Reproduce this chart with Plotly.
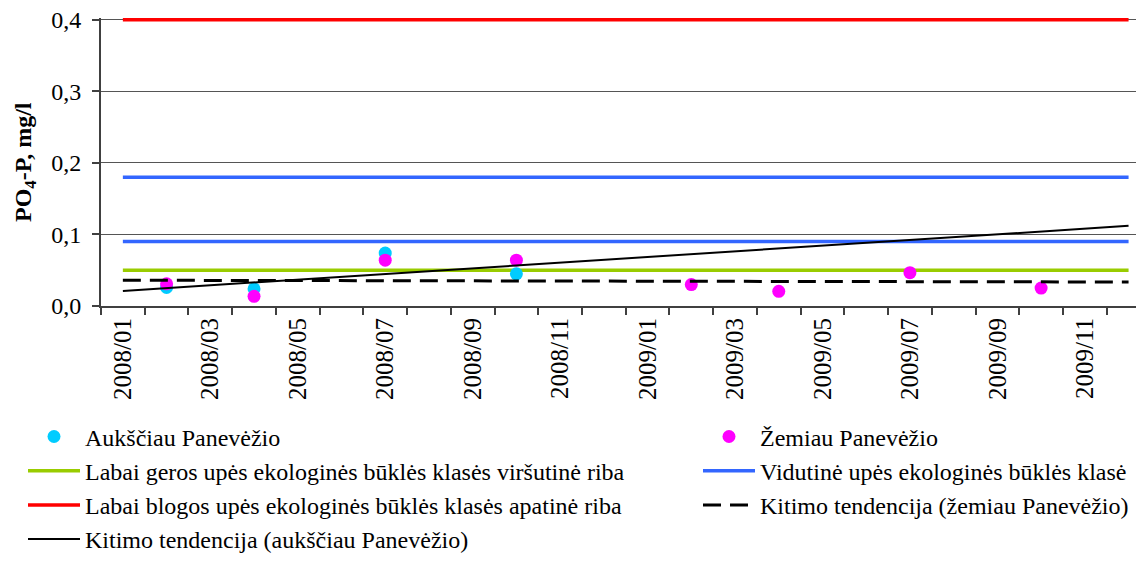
import plotly.graph_objects as go

# month labels shown on the x axis (every second month)
tick_labels = ["2008/01", "2008/03", "2008/05", "2008/07", "2008/09", "2008/11",
               "2009/01", "2009/03", "2009/05", "2009/07", "2009/09", "2009/11"]

# sampling months and measured PO4-P, mg/l
upstream_months = ["2008/02", "2008/04", "2008/07", "2008/10"]
upstream_values = [0.026, 0.024, 0.074, 0.045]

downstream_months = ["2008/02", "2008/04", "2008/07", "2008/10",
                     "2009/02", "2009/04", "2009/07", "2009/10"]
downstream_values = [0.031, 0.0135, 0.064, 0.064, 0.030, 0.0205, 0.0466, 0.025]

# class limits, drawn over the whole period
period = ["2008/01", "2009/12"]
very_good_upper = 0.05
moderate_lower = 0.09
moderate_upper = 0.18
very_bad_lower = 0.4

# trend lines (start and end of the period)
trend_upstream = [0.021, 0.112]
trend_downstream = [0.036, 0.0335]


def month_pos(label):
    year, month = label.split("/")
    return (int(year) - 2008) * 12 + int(month) - 1


def xs(labels):
    return [month_pos(m) for m in labels]


FONT = "Liberation Serif"
fig = go.Figure()

# limit lines first so points and trends sit on top
fig.add_trace(go.Scatter(x=xs(period), y=[very_good_upper] * 2, mode="lines",
                         name="Labai geros upės ekologinės būklės klasės viršutinė riba",
                         legend="legend", legendgroup="b", legendrank=2,
                         line=dict(color="#99CC00", width=3.5)))
fig.add_trace(go.Scatter(x=xs(period), y=[very_bad_lower] * 2, mode="lines",
                         name="Labai blogos upės ekologinės būklės klasės apatinė riba",
                         legend="legend", legendgroup="c", legendrank=3,
                         line=dict(color="#FF0000", width=3.5)))
fig.add_trace(go.Scatter(x=xs(period), y=[moderate_upper] * 2, mode="lines",
                         name="Vidutinė upės ekologinės būklės klasė",
                         legend="legend2", legendgroup="f", legendrank=2,
                         line=dict(color="#3366FF", width=3.5)))
fig.add_trace(go.Scatter(x=xs(period), y=[moderate_lower] * 2, mode="lines",
                         name="Vidutinė upės ekologinės būklės klasė", showlegend=False,
                         legend="legend2", legendgroup="f", legendrank=2,
                         line=dict(color="#3366FF", width=3.5)))

fig.add_trace(go.Scatter(x=xs(upstream_months), y=upstream_values, mode="markers",
                         name="Aukščiau Panevėžio", legend="legend", legendgroup="a",
                         legendrank=1, marker=dict(color="#00CCFF", size=13)))
fig.add_trace(go.Scatter(x=xs(downstream_months), y=downstream_values, mode="markers",
                         name="Žemiau Panevėžio", legend="legend2", legendgroup="e",
                         legendrank=1, marker=dict(color="#FF00FF", size=13)))

fig.add_trace(go.Scatter(x=xs(period), y=trend_upstream, mode="lines",
                         name="Kitimo tendencija (aukščiau Panevėžio)",
                         legend="legend", legendgroup="d", legendrank=4,
                         line=dict(color="black", width=2)))
fig.add_trace(go.Scatter(x=xs(period), y=trend_downstream, mode="lines",
                         name="Kitimo tendencija (žemiau Panevėžio)",
                         legend="legend2", legendgroup="g", legendrank=3,
                         line=dict(color="black", width=3, dash="18px,9px")))

legend_style = dict(xref="container", yref="container", xanchor="left", yanchor="top",
                    bgcolor="rgba(0,0,0,0)", font=dict(family=FONT, size=24, color="black"),
                    tracegroupgap=0, traceorder="grouped", itemwidth=52)

# the page body keeps its default 8 px margin, so the figure is 16 px smaller
fig.update_layout(
    width=1128, height=553,
    margin=dict(l=93, r=0, t=10, b=255, autoexpand=False),
    paper_bgcolor="white", plot_bgcolor="white",
    separators=", ",
    font=dict(family=FONT, color="black"),
    legend=dict(x=0.0133, y=0.2651, **legend_style),
    legend2=dict(x=0.6117, y=0.2651, **legend_style),
    xaxis=dict(range=[-0.5, 23.17], tickmode="array",
               tickvals=[month_pos(m) for m in tick_labels], ticktext=tick_labels,
               tickangle=-90, ticks="", tickfont=dict(family=FONT, size=25),
               showgrid=False, zeroline=False, showline=True, linecolor="#404040", linewidth=2,
               minor=dict(tickmode="array", tickvals=[i - 0.5 for i in range(25)],
                          ticks="outside", ticklen=7, tickcolor="#404040", tickwidth=1.5,
                          showgrid=False)),
    yaxis=dict(range=[0, 0.4025], tickvals=[0, 0.1, 0.2, 0.3, 0.4], tickformat=".1f",
               ticks="outside", ticklen=7, tickcolor="#404040", tickwidth=1.5,
               tickfont=dict(family=FONT, size=24), ticklabeloverflow="allow",
               ticklabelstandoff=6,
               showgrid=True, gridcolor="#555555", gridwidth=1, zeroline=False,
               showline=True, linecolor="#404040", linewidth=2, automargin=False),
)

# y axis title
fig.add_annotation(text="<b>PO<sub>4</sub>-P, mg/l</b>", xref="paper", yref="paper",
                   x=-0.0734, y=0.5, xanchor="center", yanchor="middle", textangle=-90,
                   showarrow=False, font=dict(family=FONT, size=24, color="black"))

fig.write_html("out.html", config={"displayModeBar": False})
